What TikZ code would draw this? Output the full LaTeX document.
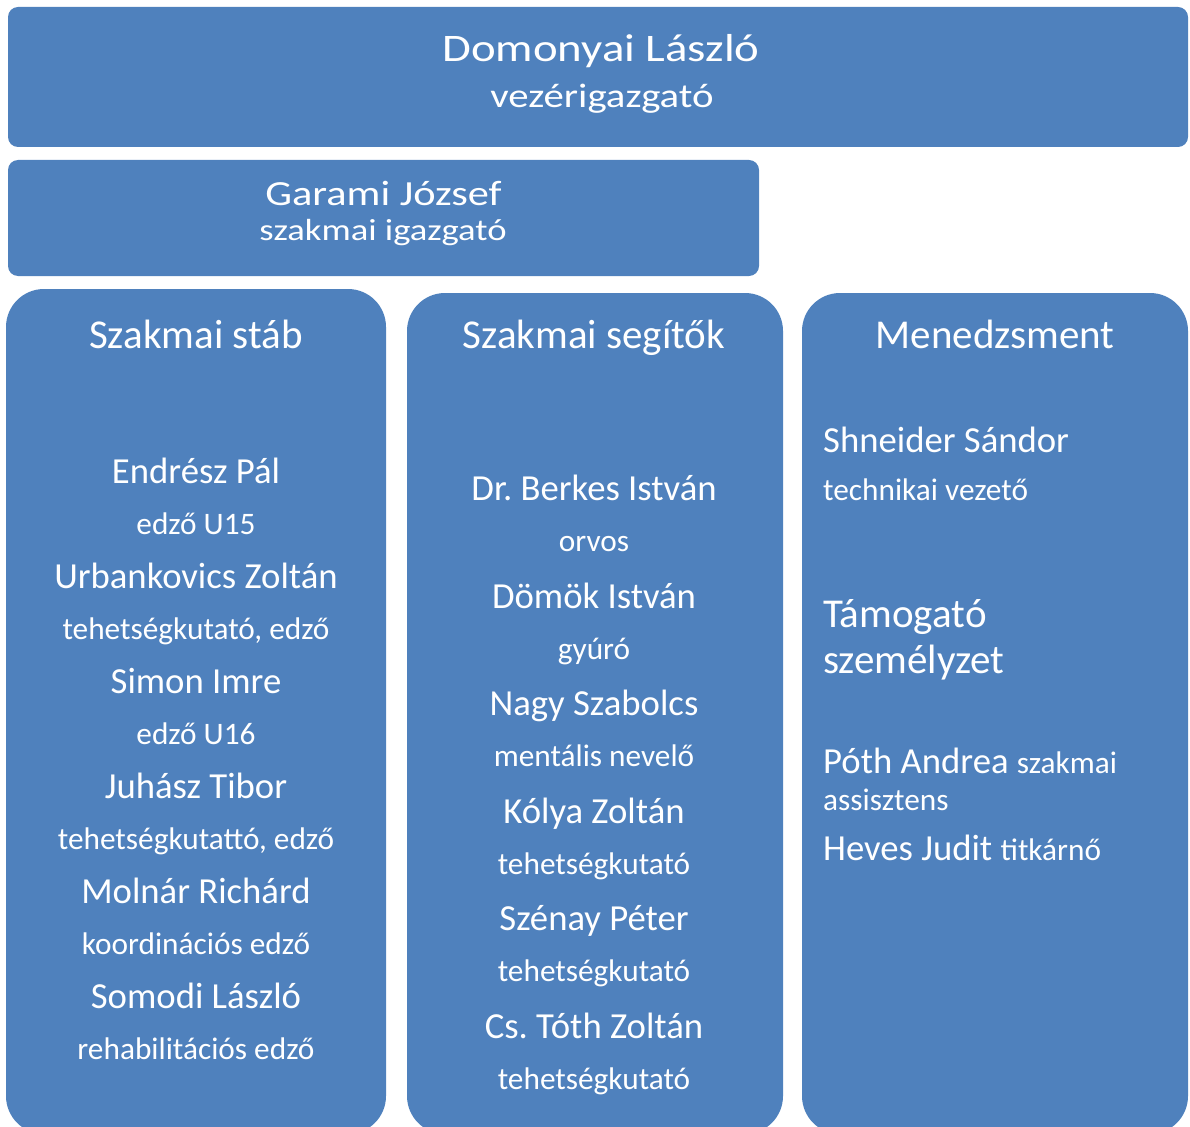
\documentclass[tikz,border=0pt]{standalone}
\usepackage{fontspec}
\setmainfont{Carlito}
\newfontfamily\widefont{Carlito}[FakeStretch=1.2]
\usepackage{tikz}
\usetikzlibrary{positioning}
\definecolor{boxblue}{RGB}{79,129,189}
\frenchspacing

\begin{document}
\begin{tikzpicture}[
  x=1pt, y=-1pt,
  box/.style={
    fill=boxblue, rounded corners=10pt, inner sep=0pt
  },
  column/.style={
    fill=boxblue, rounded corners=38pt, inner sep=0pt
  },
  title/.style={text=white, inner sep=0pt, anchor=base},
  head/.style={text=white, inner sep=0pt, anchor=base,
    font=\fontsize{41}{48}\selectfont},
  person/.style={text=white, inner sep=0pt, anchor=base,
    font=\fontsize{36.7}{43}\selectfont},
  role/.style={text=white, inner sep=0pt, anchor=base,
    font=\fontsize{31.3}{37}\selectfont},
  left/.style={anchor=base west}
]
\useasboundingbox (0,0) rectangle (1190,1126);

% Boxes
\node[box, minimum width=1180pt, minimum height=140pt] (ceobox) at (598,77) {};
\node[box, minimum width=751pt, minimum height=116pt] (dirbox) at (383.5,218) {};
\node[column, minimum width=380pt, minimum height=845pt] (stab) at (196,711.5) {};
\node[column, minimum width=376pt, minimum height=841pt] (segitok) at (595,713.5) {};
\node[column, minimum width=386pt, minimum height=841pt] (menedzsment) at (995,713.5) {};

% Top of the club
\node[title, font=\widefont\fontsize{39}{46}\selectfont] (ceo) at (601,62) {Domonyai László};
\node[title, font=\widefont\fontsize{34}{41}\selectfont] (ceorole) at (602,108) {vezérigazgató};
\node[title, font=\widefont\fontsize{35.3}{42}\selectfont] (dir) at (383.5,205) {Garami József};
\node[title, font=\widefont\fontsize{30.5}{37}\selectfont] (dirrole) at (383,240) {szakmai igazgató};

% Column heads
\node[head] (stabhead) at (196,348) {Szakmai stáb};
\node[head] (segitokhead) at (594,348) {Szakmai segítők};
\node[head] (menedzsmenthead) at (995,348) {Menedzsment};

% Szakmai stab
\node[person] (endresz) at (196,483) {Endrész Pál};
\node[role] (endreszrole) at (196,534) {edző U15};
\node[person] (urbankovics) at (196,588) {Urbankovics Zoltán};
\node[role] (urbankovicsrole) at (196,639) {tehetségkutató, edző};
\node[person] (simon) at (196,693) {Simon Imre};
\node[role] (simonrole) at (196,744) {edző U16};
\node[person] (juhasz) at (196,798) {Juhász Tibor};
\node[role] (juhaszrole) at (196,849) {tehetségkutattó, edző};
\node[person] (molnar) at (196,903) {Molnár Richárd};
\node[role] (molnarrole) at (196,954) {koordinációs edző};
\node[person] (somodi) at (196,1008) {Somodi László};
\node[role] (somodirole) at (196,1059) {rehabilitációs edző};

% Szakmai segitok
\node[person] (berkes) at (594,500) {Dr. Berkes István};
\node[role] (berkesrole) at (594,551) {orvos};
\node[person] (domok) at (594,608) {Dömök István};
\node[role] (domokrole) at (594,659) {gyúró};
\node[person] (nagy) at (594,715) {Nagy Szabolcs};
\node[role] (nagyrole) at (594,766) {mentális nevelő};
\node[person] (kolya) at (594,823) {Kólya Zoltán};
\node[role] (kolyarole) at (594,874) {tehetségkutató};
\node[person] (szenay) at (594,930) {Szénay Péter};
\node[role] (szenayrole) at (594,981) {tehetségkutató};
\node[person] (toth) at (594,1038) {Cs. Tóth Zoltán};
\node[role] (tothrole) at (594,1089) {tehetségkutató};

% Menedzsment
\node[person, left] (shneider) at (823,452) {Shneider Sándor};
\node[role, left] (shneiderrole) at (823,500) {technikai vezető};
\node[head, left] (tamogato) at (823,627) {Támogató};
\node[head, left] (szemelyzet) at (823,673) {személyzet};
\node[person, left] (poth) at (823,773) {Póth Andrea {\fontsize{31.3}{37}\selectfont szakmai}};
\node[role, left] (pothrole) at (823,810) {assisztens};
\node[person, left] (heves) at (823,860) {Heves Judit {\fontsize{31.3}{37}\selectfont titkárnő}};

\end{tikzpicture}
\end{document}
